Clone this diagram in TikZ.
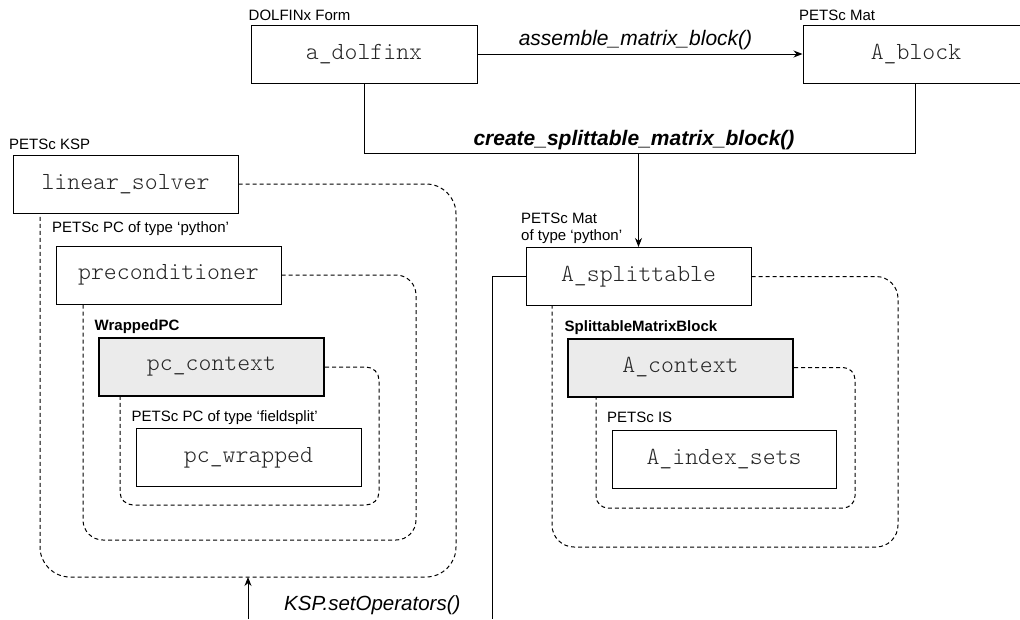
\documentclass[tikz,border=0pt]{standalone}
\usepackage{fontspec}
\setmainfont{Liberation Sans}
\newfontfamily\lmlight{lmmonolt10-regular.otf}
\usetikzlibrary{arrows.meta}
\begin{document}
\begin{tikzpicture}[x=1pt,y=-1pt,
  box/.style={draw=black, line width=1pt, minimum width=225pt, minimum height=58pt, inner sep=0pt, text=black!85, font=\lmlight\fontsize{24.6}{26}\selectfont},
  ctxbox/.style={box, line width=2pt, fill=black!8},
  lbl/.style={anchor=base west, inner sep=0pt, font=\fontsize{15}{18}\selectfont},
  blbl/.style={anchor=base west, inner sep=0pt, font=\bfseries\fontsize{15}{18}\selectfont},
  conn/.style={line width=1pt, draw=black},
  arr/.style={conn, -{Stealth[length=9pt,width=7pt]}},
  nest/.style={draw=black, dash pattern=on 4pt off 3pt, line width=1pt},
  elbl/.style={anchor=base, inner sep=0pt, font=\itshape\fontsize{21}{24}\selectfont},
  eblbl/.style={anchor=base, inner sep=0pt, font=\bfseries\itshape\fontsize{21}{24}\selectfont}]
\useasboundingbox (0,0) rectangle (1020,619);

% boxes
\node[box, minimum width=226pt] (adolfinx) at (364,54) {a\_dolfinx};
\node[box, minimum width=226pt] (ablock) at (916,54) {A\_block};
\node[box] (ls) at (125.5,184) {linear\_solver};
\node[box] (pre) at (168.5,275) {preconditioner};
\node[ctxbox] (pcc) at (211.5,367) {pc\_context};
\node[box] (pcw) at (248.5,457.5) {pc\_wrapped};
\node[box] (As) at (638.5,276.5) {A\_splittable};
\node[ctxbox] (Ac) at (680.5,367.5) {A\_context};
\node[box, minimum width=224pt] (Ais) at (724,459) {A\_index\_sets};

% labels
\node[lbl] (l1) at (248.5,20.5) {DOLFINx Form};
\node[lbl] (l2) at (799,20.5) {PETSc Mat};
\node[lbl] (l3) at (9,149) {PETSc KSP};
\node[lbl] (l4) at (52,232.5) {PETSc PC of type ‘python’};
\node[blbl] (l5) at (94.5,330.5) {WrappedPC};
\node[lbl] (l6) at (131.5,421.5) {PETSc PC of type ‘fieldsplit’};
\node[lbl] (l7) at (521,223) {PETSc Mat};
\node[lbl] (l8) at (521,240) {of type ‘python’};
\node[blbl] (l9) at (564.5,331.5) {SplittableMatrixBlock};
\node[lbl] (l10) at (607,422.5) {PETSc IS};

% connectors
\draw[arr] (adolfinx.east) -- (ablock.west);
\node[elbl] (e1) at (635.5,45) {assemble\_matrix\_block()};
\coordinate (m1) at (364,153);
\coordinate (m2) at (915,153);
\coordinate (m3) at (638.5,153);
\draw[conn] (adolfinx.south) -- (m1) -- (m2) -- (ablock.south -| m2);
\draw[arr] (m3) -- (As.north);
\node[eblbl] (e2) at (634,145) {create\_splittable\_matrix\_block()};

\coordinate (s1) at (492,619);
\draw[conn] (As.west) -| (s1);

\coordinate (k1) at (248,619);
\coordinate (k2) at (248,577);
\draw[arr] (k1) -- (k2);
\node[anchor=base west, inner sep=0pt, font=\itshape\fontsize{20.5}{24}\selectfont] (e3) at (284,610) {KSP.setOperators()};

% nesting dashed outlines
\coordinate (o1) at (456,577);
\coordinate (o2) at (40,577);
\draw[nest, rounded corners=30pt] (ls.east) -| (o1) -- (o2) -- (ls.south -| o2);
\coordinate (p1) at (416,540);
\coordinate (p2) at (83,540);
\draw[nest, rounded corners=20pt] (pre.east) -| (p1) -- (p2) -- (pre.south -| p2);
\coordinate (q1) at (379,505);
\coordinate (q2) at (120,505);
\draw[nest, rounded corners=13pt] (pcc.east) -| (q1) -- (q2) -- (pcc.south -| q2);
\coordinate (r1) at (898,547);
\coordinate (r2) at (552,547);
\draw[nest, rounded corners=22pt] (As.east) -| (r1) -- (r2) -- (As.south -| r2);
\coordinate (t1) at (855,508);
\coordinate (t2) at (596,508);
\draw[nest, rounded corners=12pt] (Ac.east) -| (t1) -- (t2) -- (Ac.south -| t2);
\end{tikzpicture}
\end{document}
